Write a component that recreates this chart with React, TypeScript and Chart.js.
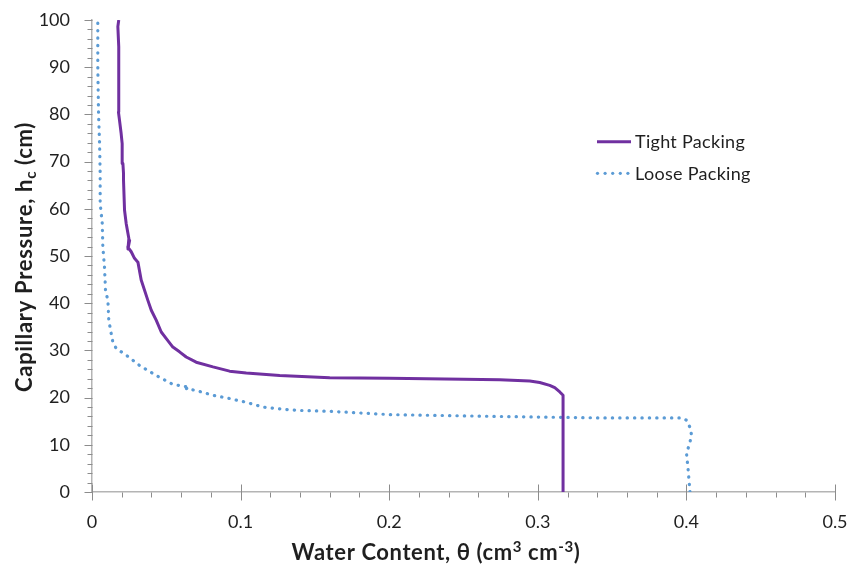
import { useEffect, useRef } from 'react';
import { Chart, registerables } from 'chart.js';

Chart.register(...registerables);

// ---- data ----
const seriesNames = ['Tight Packing', 'Loose Packing'];

const tightTheta = [0.317, 0.317, 0.3148, 0.3114, 0.308, 0.3013, 0.2946, 0.2744, 0.25, 0.2, 0.16, 0.1263, 0.1038, 0.0926, 0.0814, 0.0701, 0.0634, 0.0589, 0.0544, 0.05, 0.0466, 0.0432, 0.0399, 0.0376, 0.0331, 0.0309, 0.0286, 0.0264, 0.0241, 0.0253, 0.0242, 0.0248, 0.023, 0.0219, 0.0212, 0.0212, 0.0208, 0.0203, 0.0196, 0.0185, 0.0178, 0.018, 0.018, 0.0174, 0.018];
const tightH = [0, 20.5, 21.2, 22.1, 22.6, 23.2, 23.5, 23.8, 23.9, 24.1, 24.2, 24.7, 25.2, 25.6, 26.5, 27.5, 28.6, 29.7, 30.7, 32.5, 33.9, 36.4, 38.5, 40.6, 44.9, 48.7, 49.5, 50.9, 51.9, 53.3, 51.5, 53.7, 56.9, 59.7, 66.1, 67.5, 69.6, 73.8, 76.0, 78.8, 80.5, 88, 94.3, 98.6, 100];

const looseTheta = [0.4024, 0.4012, 0.4001, 0.4024, 0.4035, 0.4024, 0.4001, 0.3968, 0.3867, 0.3418, 0.2744, 0.2, 0.16, 0.1375, 0.1263, 0.115, 0.1038, 0.0926, 0.0814, 0.0701, 0.0634, 0.0657, 0.0544, 0.0432, 0.032, 0.023, 0.0163, 0.014, 0.0129, 0.0113, 0.0107, 0.0091, 0.0084, 0.0073, 0.0069, 0.0055, 0.0055, 0.0055, 0.0051, 0.0044, 0.0039, 0.0039];
const looseH = [0, 4.6, 8.1, 10.6, 12.0, 13.7, 15.2, 15.7, 15.7, 15.7, 16.0, 16.4, 17.1, 17.3, 17.6, 18.0, 19.0, 19.8, 20.5, 21.5, 21.9, 22.2, 22.8, 24.7, 26.8, 29.0, 30.4, 31.8, 33.6, 36.4, 40.6, 42.7, 47.7, 51.9, 56.9, 61.1, 66.1, 67.5, 73.8, 80.2, 90.1, 100];

const xTicks = [0, 0.1, 0.2, 0.3, 0.4, 0.5];
const xTickLabels = ['0', '0.1', '0.2', '0.3', '0.4', '0.5'];
const yTicks = [0, 10, 20, 30, 40, 50, 60, 70, 80, 90, 100];
const yTickLabels = ['0', '10', '20', '30', '40', '50', '60', '70', '80', '90', '100'];
const xMinorStep = 0.02;
const yMinorStep = 2;

type Seg = { t: string; s?: 'sup' | 'sub' };
const xTitle: Seg[] = [{ t: 'Water Content, θ (cm' }, { t: '3', s: 'sup' }, { t: ' cm' }, { t: '-3', s: 'sup' }, { t: ')' }];
const yTitle: Seg[] = [{ t: 'Capillary Pressure, h' }, { t: 'c', s: 'sub' }, { t: ' (cm)' }];

const COLORS = ['#7030A0', '#5B9BD5'];
const FONT = 'Lato, "Open Sans", sans-serif';
const TEXT = '#1f1f1f';

function drawRich(ctx: CanvasRenderingContext2D, segs: Seg[], x: number, y: number, size: number, spacing: number) {
  const f = (s?: string) => `bold ${s ? Math.round(size * 0.66) : size}px ${FONT}`;
  (ctx as any).letterSpacing = `${spacing}px`;
  let total = 0;
  const ws = segs.map((g) => {
    ctx.font = f(g.s);
    const w = ctx.measureText(g.t).width;
    total += w;
    return w;
  });
  let cx = x - total / 2;
  ctx.textAlign = 'left';
  ctx.textBaseline = 'alphabetic';
  ctx.fillStyle = TEXT;
  segs.forEach((g, i) => {
    ctx.font = f(g.s);
    const dy = g.s === 'sup' ? -size * 0.36 : g.s === 'sub' ? size * 0.2 : 0;
    ctx.fillText(g.t, cx, y + dy);
    cx += ws[i];
  });
  (ctx as any).letterSpacing = '0px';
}

const decorPlugin = {
  id: 'decor',
  afterDraw(chart: any) {
    const ctx: CanvasRenderingContext2D = chart.ctx;
    const xs = chart.scales.x;
    const ys = chart.scales.y;
    const ca = chart.chartArea;
    ctx.save();
    // tick marks
    ctx.strokeStyle = '#8c8c8c';
    ctx.lineWidth = 1;
    ctx.beginPath();
    const bottom = Math.round(ca.bottom) + 0.5;
    const left = Math.round(ca.left) + 0.5;
    for (let i = 0; i <= Math.round(0.5 / xMinorStep); i++) {
      const v = i * xMinorStep;
      const px = Math.round(xs.getPixelForValue(v)) + 0.5;
      const major = i % 5 === 0;
      ctx.moveTo(px, major ? bottom - 8 : bottom);
      ctx.lineTo(px, bottom + (major ? 8 : 5));
    }
    for (let i = 0; i <= Math.round(100 / yMinorStep); i++) {
      const v = i * yMinorStep;
      const py = Math.round(ys.getPixelForValue(v)) + 0.5;
      const major = i % 5 === 0;
      ctx.moveTo(left, py);
      ctx.lineTo(left - (major ? 8 : 5), py);
    }
    ctx.stroke();

    // axis titles
    drawRich(ctx, xTitle, 436, 560, 22, 0.6);
    ctx.save();
    ctx.translate(32, 257);
    ctx.rotate(-Math.PI / 2);
    drawRich(ctx, yTitle, 0, 0, 22, 0.7);
    ctx.restore();

    // legend
    ctx.font = `18px ${FONT}`;
    (ctx as any).letterSpacing = '0.3px';
    ctx.fillStyle = TEXT;
    ctx.textAlign = 'left';
    ctx.textBaseline = 'alphabetic';
    ctx.strokeStyle = COLORS[0];
    ctx.lineWidth = 3;
    ctx.setLineDash([]);
    ctx.beginPath();
    ctx.moveTo(597, 141.7);
    ctx.lineTo(631, 141.7);
    ctx.stroke();
    ctx.fillText(seriesNames[0], 635, 148.3);
    ctx.fillStyle = COLORS[1];
    for (let k = 0; k < 5; k++) {
      ctx.beginPath();
      ctx.arc(597.5 + k * 7.6, 173.3, 1.6, 0, Math.PI * 2);
      ctx.fill();
    }
    ctx.fillStyle = TEXT;
    ctx.fillText(seriesNames[1], 635, 180);
    (ctx as any).letterSpacing = '0px';
    ctx.restore();
  },
};

export default function App() {
  const ref = useRef<HTMLCanvasElement | null>(null);
  useEffect(() => {
    if (!ref.current) return;
    const chart = new Chart(ref.current, {
      type: 'scatter',
      data: {
        datasets: [
          {
            label: seriesNames[0],
            data: tightTheta.map((x, i) => ({ x, y: tightH[i] })),
            showLine: true,
            borderColor: COLORS[0],
            backgroundColor: COLORS[0],
            borderWidth: 3,
            pointRadius: 0,
            borderJoinStyle: 'round',
            tension: 0,
          },
          {
            label: seriesNames[1],
            data: looseTheta.map((x, i) => ({ x, y: looseH[i] })),
            showLine: true,
            borderColor: COLORS[1],
            backgroundColor: COLORS[1],
            borderWidth: 3.2,
            borderDash: [0.3, 7.1],
            borderCapStyle: 'round',
            pointRadius: 0,
            tension: 0,
          },
        ],
      },
      options: {
        animation: false,
        responsive: false,
        maintainAspectRatio: false,
        layout: { padding: { top: 20, right: 14, left: 0, bottom: 0 } },
        plugins: { legend: { display: false }, tooltip: { enabled: false } },
        scales: {
          x: {
            type: 'linear',
            min: 0,
            max: 0.5,
            afterBuildTicks: (s: any) => {
              s.ticks = xTicks.map((v) => ({ value: v }));
            },
            afterFit: (s: any) => {
              s.height = 76;
              s.paddingLeft = 0;
              s.paddingRight = 0;
            },
            ticks: {
              callback: (_v: any, i: number) => xTickLabels[i],
              font: { family: FONT, size: 18 },
              color: TEXT,
              padding: 11,
              maxRotation: 0,
            },
            grid: { drawOnChartArea: false, drawTicks: true, tickLength: 8, color: 'rgba(0,0,0,0)' },
            border: { color: '#b4b4b4', width: 1.5 },
          },
          y: {
            type: 'linear',
            min: 0,
            max: 100,
            afterBuildTicks: (s: any) => {
              s.ticks = yTicks.map((v) => ({ value: v }));
            },
            afterFit: (s: any) => {
              s.width = 92;
              s.paddingTop = 0;
              s.paddingBottom = 0;
            },
            ticks: {
              callback: (_v: any, i: number) => yTickLabels[i],
              font: { family: FONT, size: 18 },
              color: TEXT,
              padding: 14,
            },
            grid: { drawOnChartArea: false, drawTicks: true, tickLength: 8, color: 'rgba(0,0,0,0)' },
            border: { color: '#b4b4b4', width: 1.5 },
          },
        },
      },
      plugins: [decorPlugin],
    } as any);
    return () => chart.destroy();
  }, []);
  return (
    <div style={{ position: 'absolute', left: 0, top: 0, width: 849, height: 568, background: '#fff' }}>
      <canvas ref={ref} width={849} height={568} style={{ width: 849, height: 568, display: 'block' }} />
    </div>
  );
}
